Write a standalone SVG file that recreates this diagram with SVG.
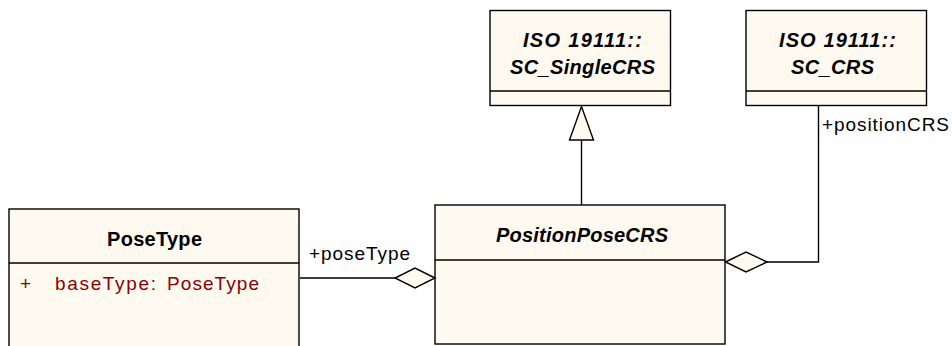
<svg xmlns="http://www.w3.org/2000/svg" width="952" height="346" viewBox="0 0 952 346">
<style>
.box{fill:#FFFAEF;stroke:#000;stroke-width:1.4}
.div{stroke:#000;stroke-width:1.4}
.t{font-family:"Liberation Sans",Arial,sans-serif;font-size:20px;font-weight:bold;fill:#000}
.ti{font-family:"Liberation Sans",Arial,sans-serif;font-size:20px;font-weight:bold;font-style:italic;fill:#000}
.lbl{font-family:"Liberation Sans",Arial,sans-serif;font-size:19px;fill:#000}
.attr{font-family:"Liberation Sans",Arial,sans-serif;font-size:19px;fill:#8B0000}
.ln{fill:none;stroke:#000;stroke-width:1.4}
.head{fill:#FFFAEF;stroke:#000;stroke-width:1.4}
</style>
<rect width="952" height="346" fill="#fff"/>
<g id="SC_SingleCRS">
<rect class="box" x="490" y="10.5" width="180.5" height="95"/>
<line class="div" x1="490" y1="91" x2="670.5" y2="91"/>
<text class="ti" x="523" y="47" textLength="119" lengthAdjust="spacing">ISO 19111::</text>
<text class="ti" x="510" y="74" textLength="145" lengthAdjust="spacing">SC_SingleCRS</text>
</g>
<g id="SC_CRS">
<rect class="box" x="746" y="10.5" width="180.5" height="95"/>
<line class="div" x1="746" y1="91" x2="926.5" y2="91"/>
<text class="ti" x="779" y="47" textLength="117" lengthAdjust="spacing">ISO 19111::</text>
<text class="ti" x="791" y="74" textLength="83" lengthAdjust="spacing">SC_CRS</text>
</g>
<g id="PoseType">
<rect class="box" x="9" y="209" width="290" height="150"/>
<line class="div" x1="9" y1="263" x2="299" y2="263"/>
<text class="t" x="107" y="246" textLength="95" lengthAdjust="spacing">PoseType</text>
<text class="attr" y="290"><tspan x="20">+</tspan><tspan x="55" textLength="101" lengthAdjust="spacing">baseType:</tspan><tspan x="167" textLength="92" lengthAdjust="spacing">PoseType</tspan></text>
</g>
<g id="PositionPoseCRS">
<rect class="box" x="435" y="205" width="290" height="139"/>
<line class="div" x1="435" y1="260" x2="725" y2="260"/>
<text class="ti" x="496" y="242" textLength="172" lengthAdjust="spacing">PositionPoseCRS</text>
</g>
<g id="connectors">
<line class="ln" x1="581.5" y1="140" x2="581.5" y2="205"/>
<polygon class="head" points="581.5,106.5 569.5,140 593.5,140"/>
<polyline class="ln" points="300,278 395,278"/>
<polygon class="head" points="435,278 415,268 395,278 415,288"/>
<text class="lbl" x="309" y="260" textLength="101" lengthAdjust="spacing">+poseType</text>
<polyline class="ln" points="767,262 818.5,262 818.5,105.5"/>
<polygon class="head" points="725.5,262 746,252 767,262 746,272"/>
<text class="lbl" x="822" y="131" textLength="127" lengthAdjust="spacing">+positionCRS</text>
</g>
</svg>
